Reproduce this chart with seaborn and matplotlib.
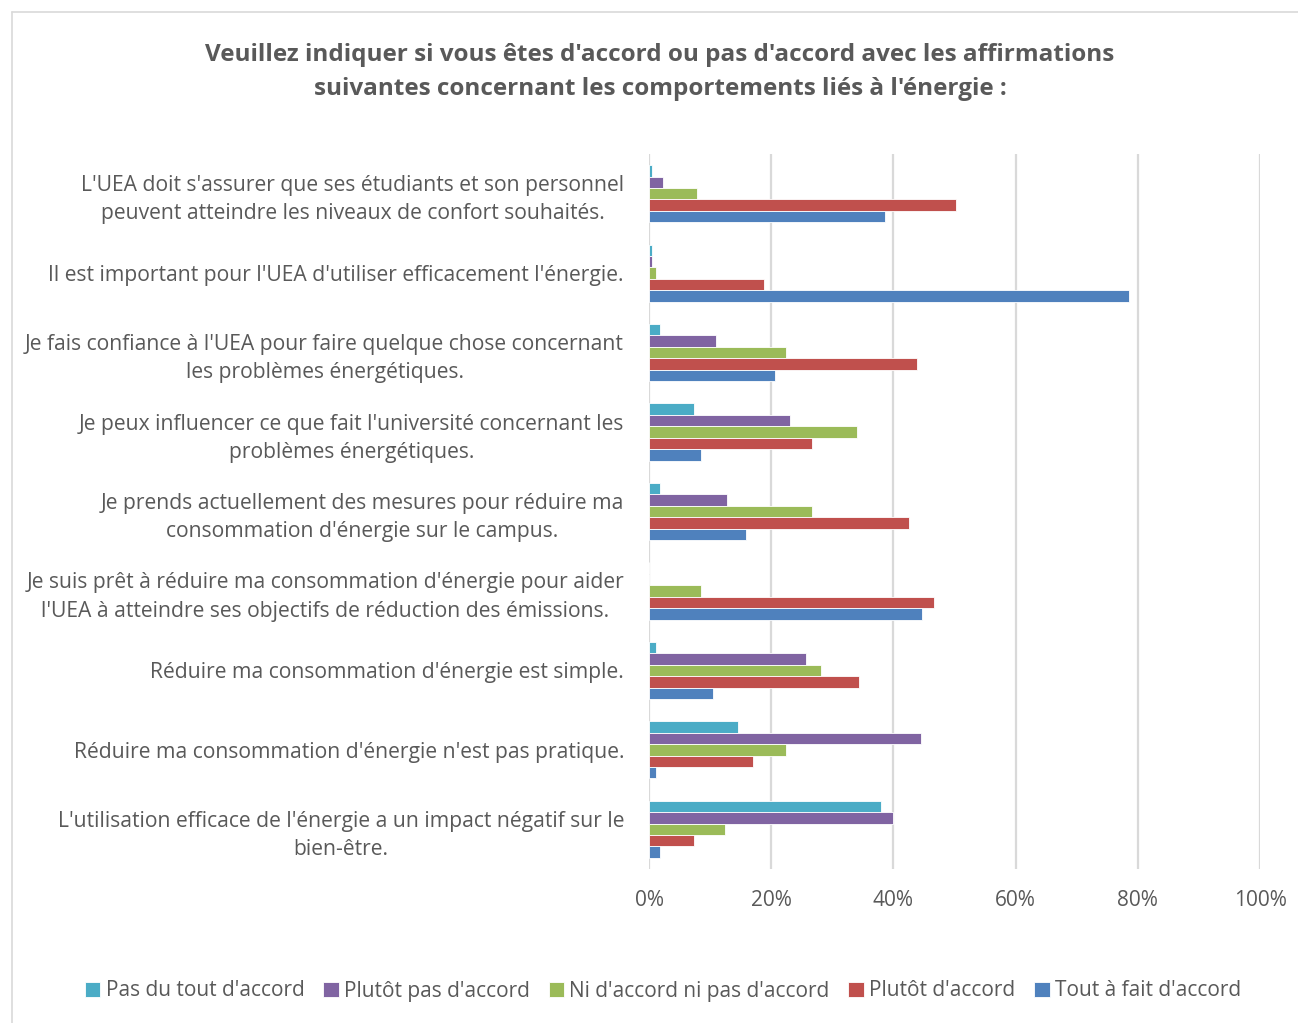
import matplotlib
matplotlib.use("Agg")
import matplotlib.pyplot as plt
import seaborn as sns
import pandas as pd
from matplotlib.lines import Line2D
from matplotlib.ticker import FuncFormatter

categories = [
    "L'UEA doit s'assurer que ses étudiants et son personnel\npeuvent atteindre les niveaux de confort souhaités.",
    "Il est important pour l'UEA d'utiliser efficacement l'énergie.",
    "Je fais confiance à l'UEA pour faire quelque chose concernant\nles problèmes énergétiques.",
    "Je peux influencer ce que fait l'université concernant les\nproblèmes énergétiques.",
    "Je prends actuellement des mesures pour réduire ma\nconsommation d'énergie sur le campus.",
    "Je suis prêt à réduire ma consommation d'énergie pour aider\nl'UEA à atteindre ses objectifs de réduction des émissions.",
    "Réduire ma consommation d'énergie est simple.",
    "Réduire ma consommation d'énergie n'est pas pratique.",
    "L'utilisation efficace de l'énergie a un impact négatif sur le\nbien-être.",
]

series_names = [
    "Pas du tout d'accord",
    "Plutôt pas d'accord",
    "Ni d'accord ni pas d'accord",
    "Plutôt d'accord",
    "Tout à fait d'accord",
]

pas_du_tout = [0.5, 0.5, 1.8, 7.3, 1.8, 0.0, 1.1, 14.5, 38.0]
plutot_pas = [2.3, 0.5, 11.0, 23.1, 12.7, 0.0, 25.7, 44.5, 39.9]
ni_ni = [7.9, 1.1, 22.5, 34.1, 26.7, 8.5, 28.2, 22.5, 12.4]
plutot_accord = [50.2, 18.9, 43.9, 26.7, 42.6, 46.6, 34.3, 17.0, 7.4]
tout_a_fait = [38.6, 78.6, 20.7, 8.5, 15.8, 44.7, 10.4, 1.1, 1.8]

colors = ["#4BACC6", "#8064A2", "#9BBB59", "#C0504D", "#4F81BD"]

all_series = [pas_du_tout, plutot_pas, ni_ni, plutot_accord, tout_a_fait]
rows = []
for name, vals in zip(series_names, all_series):
    for cat, v in zip(categories, vals):
        rows.append({"Affirmation": cat, "Réponse": name, "Valeur": v})
df = pd.DataFrame(rows)

sns.set_theme(style="white")
plt.rcParams["font.family"] = ["Open Sans", "DejaVu Sans"]
text_color = "#595959"

fig = plt.figure(figsize=(12.98, 10.23), dpi=100)
ax = fig.add_axes([649 / 1298, 1 - 869 / 1023, (1260 - 649) / 1298, (869 - 154) / 1023])

sns.barplot(
    data=df, y="Affirmation", x="Valeur", hue="Réponse",
    order=categories, hue_order=series_names, palette=colors, saturation=1,
    orient="h", width=0.72, gap=0, edgecolor="white", linewidth=0.6,
    errorbar=None, ax=ax, legend=True,
)

ax.set_xlim(0, 100)
ax.set_xticks([0, 20, 40, 60, 80, 100])
ax.xaxis.set_major_formatter(FuncFormatter(lambda v, p: f"{int(v)}%"))
ax.grid(axis="x", color="#D9D9D9", linewidth=1.6)
ax.grid(axis="y", visible=False)
ax.set_axisbelow(True)
for s in ax.spines.values():
    s.set_visible(False)
ax.set_xlabel("")
ax.set_ylabel("")
ax.tick_params(axis="both", length=0, colors=text_color, labelsize=15)
ax.tick_params(axis="x", pad=15)
ax.tick_params(axis="y", pad=18)
for lab in ax.get_yticklabels():
    lab.set_multialignment("center")
    lab.set_color(text_color)
    lab.set_fontsize(15.2)
    lab.set_linespacing(1.45)
    x0, y0 = lab.get_position()

handles, labels = ax.get_legend_handles_labels()
ax.get_legend().remove()
leg = fig.legend(
    handles, labels, loc="center", bbox_to_anchor=(663 / 1298, 1 - 991 / 1023),
    ncol=5, frameon=False, fontsize=15, handlelength=0.75, handleheight=0.75,
    handletextpad=0.25, columnspacing=0.9,
)
for t in leg.get_texts():
    t.set_color(text_color)

fig.text(660 / 1298, 1 - 72 / 1023,
         "Veuillez indiquer si vous êtes d'accord ou pas d'accord avec les affirmations\n"
         "suivantes concernant les comportements liés à l'énergie :",
         ha="center", va="center", fontsize=17.5, fontweight="bold", color=text_color,
         linespacing=1.6)

fig.add_artist(Line2D([12 / 1298, 12 / 1298], [0, 1 - 12 / 1023], transform=fig.transFigure,
                      color="#D9D9D9", linewidth=1.2))
fig.add_artist(Line2D([12 / 1298, 1], [1 - 12 / 1023, 1 - 12 / 1023], transform=fig.transFigure,
                      color="#D9D9D9", linewidth=1.2))

fig.savefig("out.png", dpi=100, facecolor="white")
